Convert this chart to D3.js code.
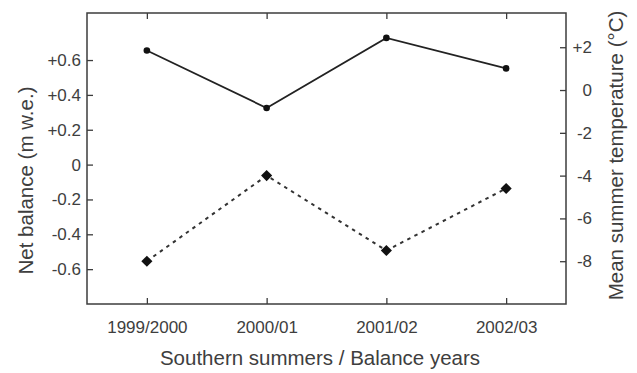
<!DOCTYPE html>
<html>
<head>
<meta charset="utf-8">
<script src="https://cdn.jsdelivr.net/npm/d3@7"></script>
<style>
  html, body { margin: 0; padding: 0; background: #fff; }
  svg { display: block; }
  text { font-family: "Liberation Sans", Arial, sans-serif; fill: #3e3e3e; }
</style>
</head>
<body>
<svg id="chart" width="637" height="373"></svg>
<script>
// Balance years (southern summers)
const years = ["1999/2000", "2000/01", "2001/02", "2002/03"];
// Net balance, m w.e. (solid line, circles, left axis)
const netBalance = [0.655, 0.325, 0.727, 0.552];
// Mean summer temperature, °C (dotted line, diamonds, right axis)
const meanTemp = [-8.0, -4.0, -7.5, -4.6];
// Axis ticks
const balanceTicks = [-0.6, -0.4, -0.2, 0, 0.2, 0.4, 0.6];
const tempTicks = [-8, -6, -4, -2, 0, 2];

const svg = d3.select("#chart");
const frame = { left: 87, right: 566, top: 13, bottom: 304 };

const x = d3.scalePoint().domain(years).range([frame.left, frame.right]).padding(0.5);
const yBal = d3.scaleLinear().domain([-0.8, 0.87]).range([frame.bottom, frame.top]);
const yTemp = d3.scaleLinear().domain([-10, 3.6]).range([frame.bottom, frame.top]);

const signed = (v, fmt) => (v > 0 ? "+" : "") + (v === 0 ? "0" : d3.format(fmt)(v).replace("−", "-"));

// Frame
svg.append("rect")
  .attr("x", frame.left).attr("y", frame.top)
  .attr("width", frame.right - frame.left).attr("height", frame.bottom - frame.top)
  .attr("fill", "none").attr("stroke", "#3c3c3c").attr("stroke-width", 1.5);

const tickLen = 6;
const axisStyle = g => {
  g.select(".domain").remove();
  g.selectAll(".tick line").attr("stroke", "#3c3c3c").attr("stroke-width", 1.3);
  g.selectAll(".tick text").style("font-size", "17px").attr("fill", "#3e3e3e")
    .style("font-family", "Liberation Sans, Arial, sans-serif");
};

// Bottom axis: ticks point inward
svg.append("g").attr("transform", `translate(0,${frame.bottom})`)
  .call(d3.axisBottom(x).tickSizeInner(-tickLen).tickSizeOuter(0).tickPadding(17))
  .call(axisStyle);

// Top axis: inward ticks only
svg.append("g").attr("transform", `translate(0,${frame.top})`)
  .call(d3.axisTop(x).tickSizeInner(-tickLen).tickSizeOuter(0).tickFormat(""))
  .call(axisStyle);

// Left axis: net balance
svg.append("g").attr("transform", `translate(${frame.left},0)`)
  .call(d3.axisLeft(yBal).tickValues(balanceTicks).tickSizeInner(-tickLen).tickSizeOuter(0)
    .tickPadding(6).tickFormat(v => signed(v, ".1f")))
  .call(axisStyle);

// Right axis: temperature (labels right-aligned)
const rightAxis = svg.append("g").attr("transform", `translate(${frame.right},0)`)
  .call(d3.axisRight(yTemp).tickValues(tempTicks).tickSizeInner(-tickLen).tickSizeOuter(0)
    .tickFormat(v => signed(v, "d")))
  .call(axisStyle);
rightAxis.selectAll(".tick text").attr("x", 26).attr("text-anchor", "end");

// Axis titles
svg.append("text")
  .attr("transform", `translate(33,${(frame.top + frame.bottom) / 2 + 22}) rotate(-90)`)
  .attr("text-anchor", "middle").style("font-size", "20.5px")
  .text("Net balance (m w.e.)");

svg.append("text")
  .attr("transform", `translate(623,${(frame.top + frame.bottom) / 2 - 3}) rotate(-90)`)
  .attr("text-anchor", "middle").style("font-size", "20.5px")
  .text("Mean summer temperature (°C)");

svg.append("text")
  .attr("x", 320).attr("y", 365)
  .attr("text-anchor", "middle").style("font-size", "20.5px")
  .text("Southern summers / Balance years");

// Net balance: solid line with circles
const balLine = d3.line().x((d, i) => x(years[i])).y(d => yBal(d));
svg.append("path").datum(netBalance)
  .attr("d", balLine).attr("fill", "none")
  .attr("stroke", "#222").attr("stroke-width", 1.8);
svg.selectAll(".bal-pt").data(netBalance).join("circle")
  .attr("class", "bal-pt")
  .attr("cx", (d, i) => x(years[i])).attr("cy", d => yBal(d))
  .attr("r", 3.3).attr("fill", "#111");

// Temperature: dotted line with diamonds
const tempLine = d3.line().x((d, i) => x(years[i])).y(d => yTemp(d));
svg.append("path").datum(meanTemp)
  .attr("d", tempLine).attr("fill", "none")
  .attr("stroke", "#333").attr("stroke-width", 2)
  .attr("stroke-dasharray", "3.5,4.5");
const diamond = d3.symbol().type(d3.symbolSquare).size(62);
svg.selectAll(".temp-pt").data(meanTemp).join("path")
  .attr("class", "temp-pt")
  .attr("d", diamond)
  .attr("transform", (d, i) => `translate(${x(years[i])},${yTemp(d)}) rotate(45)`)
  .attr("fill", "#111");
</script>
</body>
</html>
